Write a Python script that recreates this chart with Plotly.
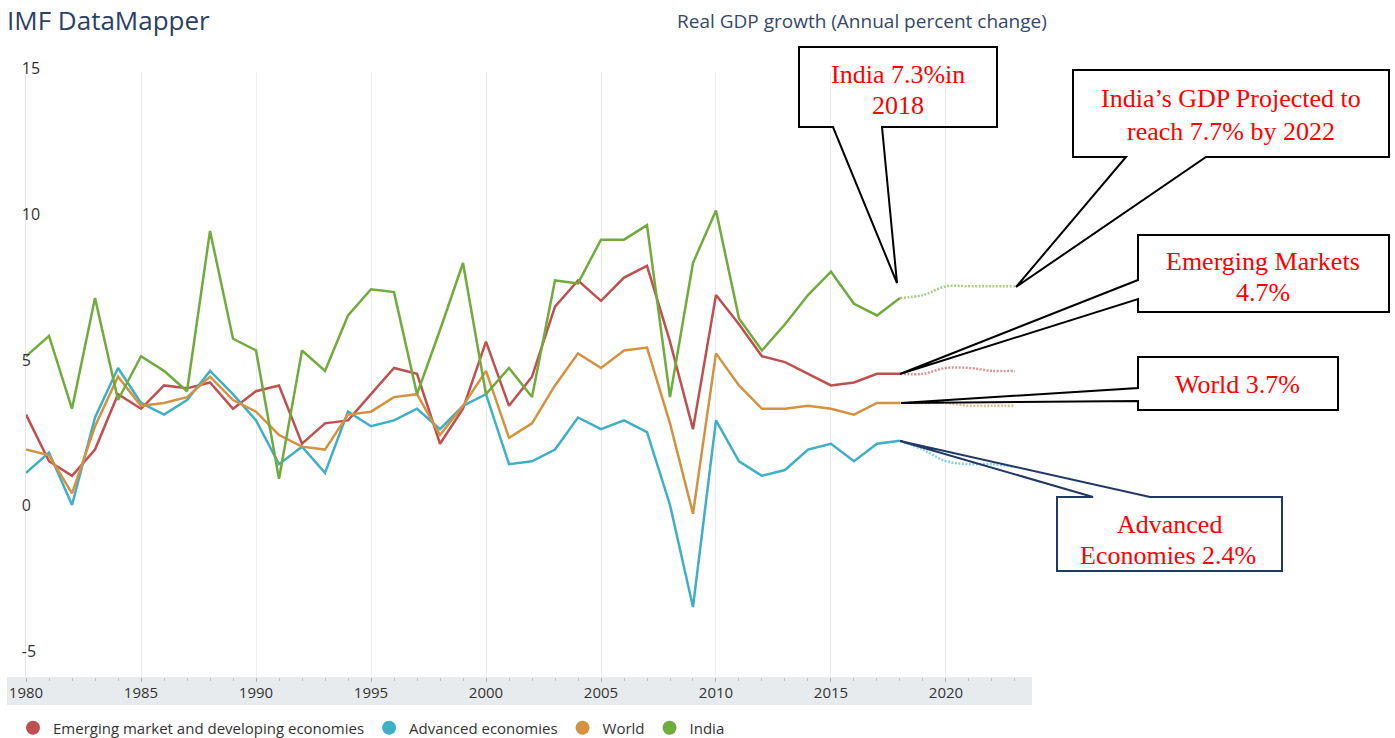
import plotly.graph_objects as go

# ---------------- data ----------------
years = list(range(1980, 2019))
proj_years = [2018, 2019, 2020, 2021, 2022, 2023]

emerging = [3.3, 1.7, 1.2, 2.1, 4.0, 3.5, 4.3, 4.2, 4.4, 3.5,
            4.1, 4.3, 2.3, 3.0, 3.1, 4.0, 4.9, 4.7, 2.3, 3.5,
            5.8, 3.6, 4.6, 7.0, 7.9, 7.2, 8.0, 8.4, 5.8, 2.8,
            7.4, 6.4, 5.3, 5.1, 4.7, 4.3, 4.4, 4.7, 4.7]
advanced = [1.3, 2.0, 0.2, 3.2, 4.9, 3.7, 3.3, 3.8, 4.8, 4.0,
            3.1, 1.6, 2.2, 1.3, 3.4, 2.9, 3.1, 3.5, 2.8, 3.6,
            4.0, 1.6, 1.7, 2.1, 3.2, 2.8, 3.1, 2.7, 0.2, -3.3,
            3.1, 1.7, 1.2, 1.4, 2.1, 2.3, 1.7, 2.3, 2.4]
world = [2.1, 1.9, 0.6, 2.9, 4.6, 3.6, 3.7, 3.9, 4.6, 3.8,
         3.4, 2.6, 2.2, 2.1, 3.3, 3.4, 3.9, 4.0, 2.6, 3.6,
         4.8, 2.5, 3.0, 4.3, 5.4, 4.9, 5.5, 5.6, 3.0, -0.1,
         5.4, 4.3, 3.5, 3.5, 3.6, 3.5, 3.3, 3.7, 3.7]
india = [5.3, 6.0, 3.5, 7.3, 3.8, 5.3, 4.8, 4.1, 9.6, 5.9,
         5.5, 1.1, 5.5, 4.8, 6.7, 7.6, 7.5, 4.0, 6.2, 8.5,
         4.0, 4.9, 3.9, 7.9, 7.8, 9.3, 9.3, 9.8, 3.9, 8.5,
         10.3, 6.6, 5.5, 6.4, 7.4, 8.2, 7.1, 6.7, 7.3]

emerging_proj = [4.7, 4.7, 4.9, 4.9, 4.8, 4.8]
advanced_proj = [2.4, 2.1, 1.7, 1.6, 1.6, 1.5]
world_proj = [3.7, 3.7, 3.7, 3.6, 3.6, 3.6]
india_proj = [7.3, 7.4, 7.7, 7.7, 7.7, 7.7]

series_names = ["Emerging market and developing economies", "Advanced economies", "World", "India"]
x_tick_labels = ["1980", "1985", "1990", "1995", "2000", "2005", "2010", "2015", "2020"]
y_tick_labels = ["-5", "0", "5", "10", "15"]

# ---------------- style ----------------
colors = ["#c0504f", "#3eafc6", "#d4913f", "#70ab3b"]
proj_colors = ["rgba(192,80,79,0.6)", "rgba(62,175,198,0.6)", "rgba(212,145,63,0.6)", "rgba(112,171,59,0.6)"]

W, H = 1395, 738
L, R, T, B = 26, 363, 72, 61
PW = W - L - R
PH = H - T - B


def px_x(x):
    return (x - L) / PW


def px_y(y):
    return (H - B - y) / PH


fig = go.Figure()

solid = [emerging, advanced, world, india]
proj = [emerging_proj, advanced_proj, world_proj, india_proj]

for name, pvals, pc in zip(series_names, proj, proj_colors):
    fig.add_trace(go.Scatter(x=proj_years, y=pvals, mode="lines", showlegend=False,
                             line=dict(color=pc, width=2.5, dash="2px,1.5px", shape="spline"),
                             hoverinfo="skip"))
for name, vals, c in zip(series_names, solid, colors):
    fig.add_trace(go.Scatter(x=years, y=vals, mode="lines", name=name, showlegend=False,
                             line=dict(color=c, width=2.5)))
# legend entries (circles)
for name, c in zip(series_names, colors):
    fig.add_trace(go.Scatter(x=[None], y=[None], mode="markers", name=name,
                             marker=dict(color=c, size=14, symbol="circle")))

# ---------------- callouts ----------------
def path(points):
    return "M " + " L ".join(f"{px_x(x):.5f},{px_y(y):.5f}" for x, y in points) + " Z"


callouts = [
    ([(799, 47), (997, 47), (997, 127), (882, 127), (897, 283), (833, 127), (799, 127)], "black"),
    ([(1073, 70), (1389, 70), (1389, 157), (1206, 157), (1016, 287), (1126, 157), (1073, 157)], "black"),
    ([(1138, 235), (1389, 235), (1389, 312), (1138, 312), (1138, 299), (900, 374), (1138, 280)], "black"),
    ([(1138, 357), (1338, 357), (1338, 410), (1138, 410), (1138, 401), (901, 403), (1138, 388)], "black"),
    ([(1057, 497), (1093, 497), (900, 441), (1150, 497), (1282, 497), (1282, 571), (1057, 571)], "#1f3864"),
]
shapes = [dict(type="rect", xref="paper", yref="paper",
               x0=px_x(7), x1=1, y0=0, y1=px_y(705),
               fillcolor="#e8ebee", line=dict(width=0), layer="below")]
for pts, col in callouts:
    shapes.append(dict(type="path", xref="paper", yref="paper", path=path(pts),
                       line=dict(color=col, width=2), fillcolor="rgba(0,0,0,0)", layer="above"))

callout_text = [
    ("India 7.3%in", 898, 74),
    ("2018", 898, 105),
    ("India\u2019s GDP Projected to", 1231, 99),
    ("reach 7.7% by 2022", 1231, 131),
    ("Emerging Markets", 1263, 261),
    ("4.7%", 1263, 292),
    ("World 3.7%", 1237, 384),
    ("Advanced", 1169, 524),
    ("Economies 2.4%", 1168, 555),
]
annotations = []
for txt, x, y in callout_text:
    annotations.append(dict(text=txt, xref="paper", yref="paper", x=px_x(x), y=px_y(y),
                            xanchor="center", yanchor="middle", showarrow=False,
                            font=dict(family="Liberation Serif, Times New Roman, serif", size=26, color="#ff0000")))

annotations.append(dict(text="Real GDP growth (Annual percent change)", xref="paper", yref="paper",
                        x=px_x(862), y=px_y(21), xanchor="center", yanchor="middle", showarrow=False,
                        font=dict(family="Open Sans", size=19, color="#34486c")))

fig.update_layout(
    width=W, height=H,
    margin=dict(l=L, r=R, t=T, b=B, pad=0, autoexpand=False),
    paper_bgcolor="white", plot_bgcolor="white",
    font=dict(family="Open Sans", color="#333333"),
    title=dict(text="IMF DataMapper", x=7 / W, y=1 - 21 / H, xanchor="left", yanchor="middle",
               xref="container", yref="container", pad=dict(l=0, r=0, t=0, b=0),
               font=dict(family="Open Sans", size=26, color="#2b3f66")),
    xaxis=dict(range=[1979.999, 2023.74], tickmode="array",
               tickvals=[int(t) for t in x_tick_labels], ticktext=x_tick_labels,
               showgrid=True, gridcolor="#ececec", gridwidth=1, zeroline=False, showline=False,
               ticks="outside", ticklen=4, tickcolor="#aab2bb", tickwidth=1,
               minor=dict(dtick=1, ticks="outside", ticklen=3, tickcolor="#c0c6cd", showgrid=False),
               tickfont=dict(size=15, color="#333333"), ticklabeloverflow="allow",
               ticklabelstandoff=-2, automargin=False),
    yaxis=dict(range=[-5.7, 15.05], tickmode="array",
               tickvals=[float(t) for t in y_tick_labels], ticktext=y_tick_labels,
               showgrid=False, zeroline=False, showline=True, linecolor="#e6e6e6", linewidth=1,
               ticks="", ticklabelposition="inside", ticklabelstandoff=-4, ticklabelshift=-5,
               ticklabeloverflow="allow", automargin=False,
               tickfont=dict(size=16, color="#333333")),
    legend=dict(orientation="h", x=px_x(13), y=px_y(728), xanchor="left", yanchor="middle",
                font=dict(size=15, color="#333333"), bgcolor="rgba(0,0,0,0)", traceorder="normal"),
    shapes=shapes,
    annotations=annotations,
    showlegend=True,
)

fig.write_html("out.html", config={"displayModeBar": False},
               post_script="document.body.style.margin='0';document.body.style.overflow='hidden';")
